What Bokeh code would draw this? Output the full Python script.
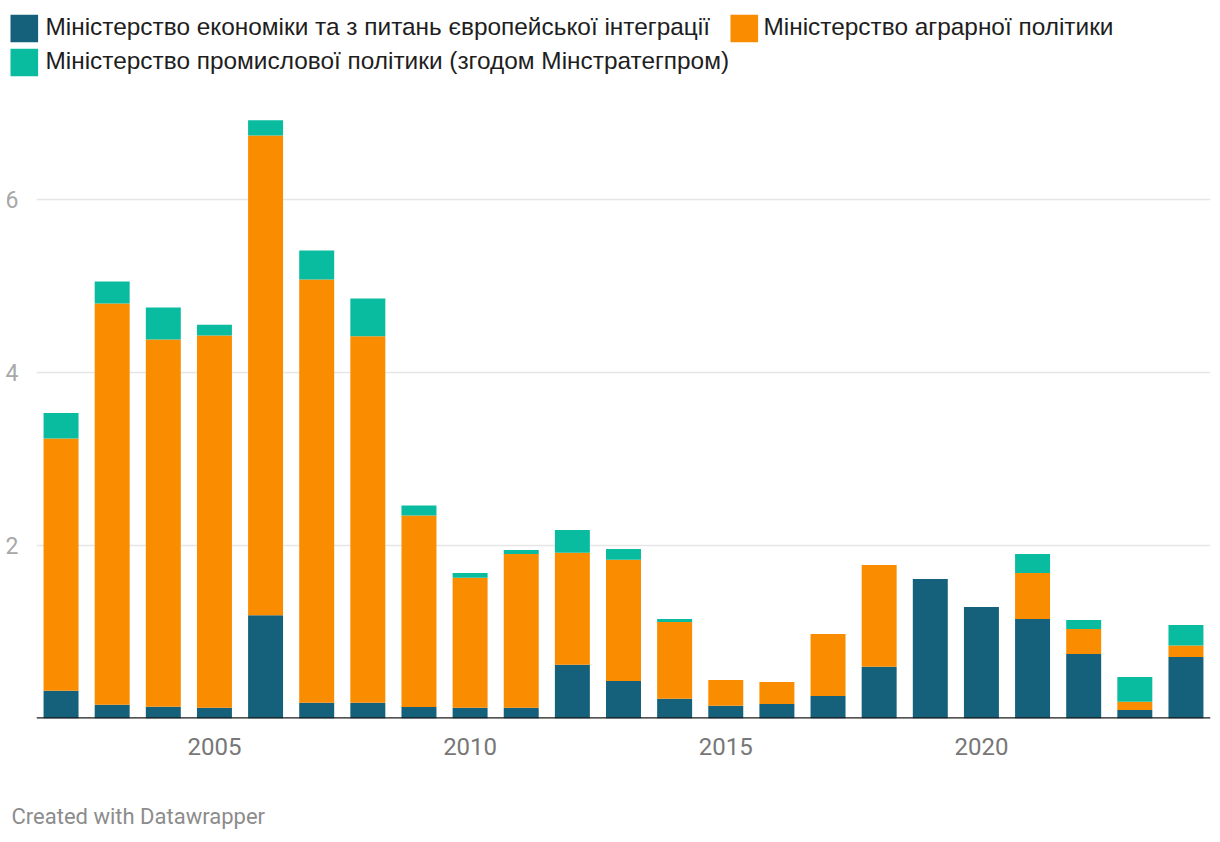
from bokeh.plotting import figure
from bokeh.models import ColumnDataSource, Range1d, FixedTicker, Span
from bokeh.layouts import column
from bokeh.core.properties import value
from bokeh.embed import file_html
from bokeh.resources import INLINE

years = list(range(2002, 2025))
economy = [0.321, 0.160, 0.136, 0.123, 1.195, 0.183, 0.183, 0.134, 0.123, 0.123, 0.62, 0.435,
           0.227, 0.146, 0.169, 0.261, 0.597, 1.614, 1.29, 1.151, 0.747, 0.099, 0.712]
agrarian = [2.915, 4.638, 4.246, 4.305, 5.545, 4.892, 4.237, 2.214, 1.503, 1.78, 1.295, 1.399,
            0.89, 0.30, 0.254, 0.717, 1.178, 0.0, 0.0, 0.532, 0.289, 0.096, 0.131]
industry = [0.295, 0.254, 0.369, 0.125, 0.176, 0.335, 0.435, 0.115, 0.057, 0.046, 0.265, 0.127,
            0.034, 0.0, 0.0, 0.0, 0.0, 0.0, 0.0, 0.22, 0.104, 0.286, 0.239]
series_names = ["Міністерство економіки та з питань європейської інтеграції",
                "Міністерство аграрної політики",
                "Міністерство промислової політики (згодом Мінстратегпром)"]
colors = ["#15607a", "#fa8c00", "#09bb9f"]
x_ticks = [2005, 2010, 2015, 2020]
y_ticks = [2, 4, 6]
footer_text = "Created with Datawrapper"

FONT = "Roboto"
LEGEND_FONT = "Liberation Sans"
W = 1220


def blank_figure(height):
    f = figure(width=W, height=height, output_backend="svg", toolbar_location=None,
               x_range=Range1d(0, W), y_range=Range1d(height, 0),
               x_axis_location=None, y_axis_location=None,
               min_border=0, min_border_left=0, min_border_right=0,
               min_border_top=0, min_border_bottom=0)
    f.frame_align = False
    f.grid.visible = False
    f.outline_line_color = None
    f.background_fill_color = "white"
    f.border_fill_color = "white"
    return f


# ---- header with legend ----
HEADER_H = 100
header = blank_figure(HEADER_H)
sq_left = [10, 730, 10]          # layout positions in px
sq_mid = [28, 28, 62]
txt_left = [45, 763, 45]
txt_mid = [26, 26, 60]
SQ = 27.6
header.quad(left=sq_left, right=[x + SQ for x in sq_left],
            top=[y - SQ / 2 for y in sq_mid], bottom=[y + SQ / 2 for y in sq_mid],
            fill_color=colors, line_color=None)
header.text(x=txt_left, y=txt_mid, text=series_names,
            text_font=value(LEGEND_FONT), text_font_size=value("24.4px"),
            text_color="#1e1e1e", text_baseline="middle", text_align="left")

# ---- main chart ----
src = ColumnDataSource(dict(year=years, economy=economy, agrarian=agrarian, industry=industry))

p = figure(width=W, height=680, output_backend="svg", toolbar_location=None,
           x_range=Range1d(2001.52, 2024.48), y_range=Range1d(0, 7.145),
           min_border_left=36, min_border_right=10, min_border_top=0, min_border_bottom=62)
p.frame_align = False
p.outline_line_color = None
p.background_fill_color = "white"
p.border_fill_color = "white"

p.vbar_stack(["economy", "agrarian", "industry"], x="year", width=0.684, source=src,
             color=colors, line_color=None)

p.xaxis.ticker = FixedTicker(ticks=x_ticks)
p.xaxis.axis_line_color = None
p.xaxis.major_tick_line_color = None
p.xaxis.minor_tick_line_color = None
p.xaxis.major_label_text_font = FONT
p.xaxis.major_label_text_font_size = "24px"
p.xaxis.major_label_text_color = "#777777"
p.xaxis.major_label_standoff = 13

p.yaxis.ticker = FixedTicker(ticks=y_ticks)
p.yaxis.axis_line_color = None
p.yaxis.major_tick_line_color = None
p.yaxis.minor_tick_line_color = None
p.yaxis.major_label_text_font = FONT
p.yaxis.major_label_text_font_size = "23px"
p.yaxis.major_label_text_color = "#a8a8a8"
p.yaxis.major_label_standoff = 12

p.xgrid.grid_line_color = None
p.ygrid.ticker = FixedTicker(ticks=y_ticks)
p.ygrid.grid_line_color = "#e6e6e6"
p.ygrid.grid_line_width = 1.5

p.add_layout(Span(location=0, dimension="width", line_color="#1a1a1a", line_width=2.5))

# ---- footer ----
FOOTER_H = 62
footer = blank_figure(FOOTER_H)
footer.text(x=[11], y=[35.7], text=[footer_text], text_font=value(FONT),
            text_font_size=value("22px"), text_color="#8c8c8c",
            text_baseline="middle", text_align="left")

layout = column(header, p, footer, spacing=0)
open("out.html", "w").write(file_html(layout, INLINE))
